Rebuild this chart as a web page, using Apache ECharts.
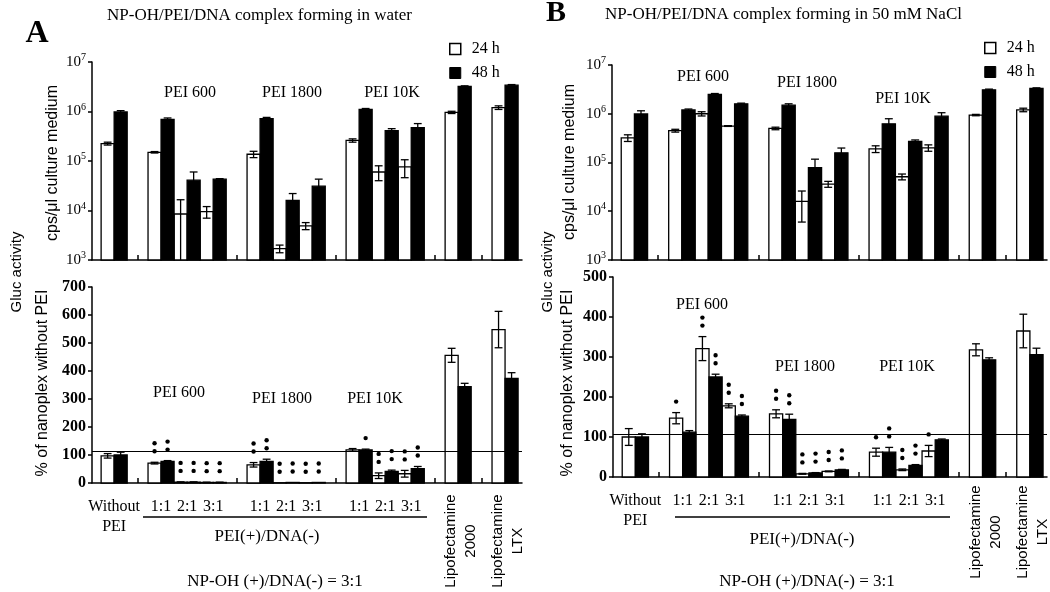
<!DOCTYPE html>
<html>
<head>
<meta charset="utf-8">
<script src="https://cdn.jsdelivr.net/npm/echarts@6/dist/echarts.min.js"></script>
<style>
  html, body { margin: 0; padding: 0; background: #fff; }
  #main { width: 1050px; height: 592px; }
</style>
</head>
<body>
<div id="main"></div>
<script>
const SERIF = '"Liberation Serif", "DejaVu Serif", serif';
const SANS = '"Liberation Sans", Arial, sans-serif';

// conditions, left to right
const conditions = ['Without PEI',
  'PEI 600 1:1', 'PEI 600 2:1', 'PEI 600 3:1',
  'PEI 1800 1:1', 'PEI 1800 2:1', 'PEI 1800 3:1',
  'PEI 10K 1:1', 'PEI 10K 2:1', 'PEI 10K 3:1',
  'Lipofectamine 2000', 'Lipofectamine LTX'];
const groupSizes = [1, 3, 3, 3, 1, 1];
const ratioLabels = ['Without\nPEI', '1:1', '2:1', '3:1', '1:1', '2:1', '3:1', '1:1', '2:1', '3:1'];
const lipoLabels = ['Lipofectamine\n2000', 'Lipofectamine\nLTX'];

// A: complex forming in water (cps/ul)
const aTop24 = [2.25e5, 1.5e5, 8.5e3, 9.5e3, 1.37e5, 1.7e3, 4.9e3, 2.6e5, 6.0e4, 7.6e4, 9.6e5, 1.2e6];
const aTop24Err = [1.5e4, 5e3, 8e3, 2.5e3, 2e4, 3e2, 8e2, 2e4, 2e4, 3e4, 5e4, 1e5];
const aTop48 = [9.8e5, 6.9e5, 4.1e4, 4.3e4, 7.2e5, 1.6e4, 3.1e4, 1.1e6, 4.1e5, 4.7e5, 3.2e6, 3.4e6];
const aTop48Err = [6e4, 5e4, 1.9e4, 1e3, 4e4, 6e3, 1.2e4, 5e4, 4e4, 1e5, 1e5, 1e5];
// A: % of nanoplex without PEI
const aBot24 = [97, 71, 3, 2, 65, 1, 1, 118, 26, 33, 456, 548];
const aBot24Err = [8, 3, 1, 1, 8, 0, 0, 5, 10, 12, 25, 65];
const aBot48 = [100, 77, 3, 2, 77, 2, 2, 118, 41, 51, 344, 374];
const aBot48Err = [10, 3, 1, 1, 8, 0, 0, 3, 5, 8, 12, 20];
const aStars24 = [0, 2, 2, 2, 2, 2, 2, 0, 2, 2, 0, 0];
const aStars48 = [0, 2, 2, 2, 2, 2, 2, 1, 2, 2, 0, 0];
const aRefLine = 112;

// B: complex forming in 50 mM NaCl
const bTop24 = [3.2e5, 4.5e5, 1.0e6, 5.6e5, 5.0e5, 1.6e4, 3.6e4, 1.9e5, 5.1e4, 2.0e5, 9.4e5, 1.2e6];
const bTop24Err = [5e4, 3e4, 1e5, 1e4, 3e4, 1e4, 5e3, 3e4, 7e3, 3e4, 3e4, 1e5];
const bTop48 = [9.9e5, 1.2e6, 2.5e6, 1.6e6, 1.5e6, 7.8e4, 1.58e5, 6.2e5, 2.7e5, 8.9e5, 3.1e6, 3.3e6];
const bTop48Err = [1.6e5, 5e4, 1e5, 5e4, 1e5, 3.9e4, 4e4, 1.7e5, 2e4, 1.6e5, 1e5, 1e5];
const bBot24 = [100, 147, 321, 178, 158, 8, 14, 62, 18, 65, 318, 365];
const bBot24Err = [21, 14, 30, 5, 10, 1, 1, 10, 2, 14, 15, 42];
const bBot48 = [100, 112, 250, 152, 144, 10, 18, 62, 29, 93, 293, 306];
const bBot48Err = [8, 4, 7, 3, 13, 1, 1, 12, 2, 2, 5, 16];
const bStars24 = [0, 1, 2, 2, 2, 2, 2, 1, 2, 1, 0, 0];
const bStars48 = [0, 0, 2, 2, 2, 2, 2, 2, 2, 0, 0, 0];
const bRefLine = 106;

// x layout in bar-width units
const LEAD = 0.7, GAP = 1.6, PAIR = 2, XMAX = 33;
const slotStart = [];
const groupTicks = [];
(function () {
  let x = LEAD;
  groupSizes.forEach((n, gi) => {
    if (gi > 0) { groupTicks.push(x + GAP / 2); x += GAP; }
    for (let k = 0; k < n; k++) { slotStart.push(x); x += PAIR; }
  });
})();
const slotCenter = slotStart.map(s => s + PAIR / 2);
const ratioPos = slotCenter.slice(0, 10);
const lipoPos = slotCenter.slice(10);

function lookup(v, pos, labels) {
  for (let i = 0; i < pos.length; i++) if (Math.abs(pos[i] - v) < 0.01) return labels[i];
  return '';
}

function barSeries(name, xi, yi, off, vals, errs, stars, fill, isLog, refLine) {
  const s = {
    name: name,
    type: 'custom',
    xAxisIndex: xi,
    yAxisIndex: yi,
    itemStyle: { color: fill, borderColor: '#000' },
    data: vals.map((v, i) => [slotStart[i] + off, v, errs[i], stars ? stars[i] : 0]),
    renderItem: function (params, api) {
      const x0 = api.value(0), v = api.value(1), e = api.value(2), n = api.value(3);
      const base = isLog ? 1e3 : 0;
      const p1 = api.coord([x0, v]);
      const p0 = api.coord([x0 + 1, base]);
      const children = [{
        type: 'rect',
        shape: { x: p1[0], y: p1[1], width: p0[0] - p1[0], height: p0[1] - p1[1] },
        style: { fill: fill, stroke: '#000', lineWidth: 1.3 }
      }];
      const cx = (p0[0] + p1[0]) / 2;
      const hw = (p0[0] - p1[0]) * 0.3;
      let top = p1[1];
      if (e > 0) {
        const hi = api.coord([x0, v + e])[1];
        const lo = api.coord([x0, Math.max(v - e, base)])[1];
        const st = { stroke: '#000', lineWidth: 1.3 };
        children.push({ type: 'line', shape: { x1: cx, y1: hi, x2: cx, y2: lo }, style: st });
        children.push({ type: 'line', shape: { x1: cx - hw, y1: hi, x2: cx + hw, y2: hi }, style: st });
        if (v - e > base) children.push({ type: 'line', shape: { x1: cx - hw, y1: lo, x2: cx + hw, y2: lo }, style: st });
        top = hi;
      }
      for (let k = 0; k < n; k++) {
        children.push({ type: 'circle', shape: { cx: cx, cy: top - 11 - 8 * k, r: 2.2 }, style: { fill: '#000' } });
      }
      return { type: 'group', children: children };
    }
  };
  if (refLine) {
    s.markLine = {
      silent: true, symbol: 'none', label: { show: false },
      lineStyle: { color: '#000', width: 1, type: 'solid' },
      data: [{ yAxis: refLine }]
    };
  }
  return s;
}

const axisLineStyle = { color: '#000', width: 1.5 };

function xAxisDef(gi, withLabels) {
  return {
    type: 'value', gridIndex: gi, min: 0, max: XMAX,
    axisLine: { show: true, lineStyle: axisLineStyle },
    axisTick: { show: true, inside: true, length: 5, customValues: groupTicks, lineStyle: axisLineStyle },
    axisLabel: withLabels ? {
      show: true, customValues: ratioPos, color: '#000', fontFamily: SERIF, fontSize: 16,
      lineHeight: 20, margin: 14,
      formatter: v => lookup(v, ratioPos, ratioLabels)
    } : { show: false },
    splitLine: { show: false }
  };
}
function logAxisDef(gi) {
  return {
    type: 'log', logBase: 10, min: 1e3, max: 1e7, gridIndex: gi,
    axisLine: { show: true, lineStyle: axisLineStyle },
    axisTick: { show: true, length: 4, lineStyle: axisLineStyle },
    splitLine: { show: false },
    axisLabel: {
      color: '#000', fontFamily: SERIF, fontSize: 15, margin: 6,
      formatter: v => '10{s|' + Math.round(Math.log10(v)) + '}',
      rich: { s: { fontSize: 10, fontFamily: SERIF, padding: [0, 0, 9, 0], color: '#000' } }
    }
  };
}
function linAxisDef(gi, max) {
  return {
    type: 'value', min: 0, max: max, interval: 100, gridIndex: gi,
    axisLine: { show: true, lineStyle: axisLineStyle },
    axisTick: { show: true, length: 4, lineStyle: axisLineStyle },
    splitLine: { show: false },
    axisLabel: { color: '#000', fontFamily: SERIF, fontSize: 16, fontWeight: 'bold', margin: 6 }
  };
}

function txt(text, x, y, font, extra, align) {
  return Object.assign({
    type: 'text', x: x, y: y,
    style: { text: text, font: font, fill: '#000', align: align || 'center', verticalAlign: 'middle', lineHeight: 20 }
  }, extra || {});
}
const R90 = { rotation: Math.PI / 2 };

const legendItems = [
  { name: '24 h', icon: 'rect', itemStyle: { color: '#fff', borderColor: '#000', borderWidth: 1.5 } },
  { name: '48 h', icon: 'rect', itemStyle: { color: '#000', borderColor: '#000', borderWidth: 1 } }
];
function legendDef(left, top) {
  return {
    data: legendItems, left: left, top: top, orient: 'vertical',
    itemWidth: 11, itemHeight: 11, itemGap: 8, selectedMode: false,
    textStyle: { fontFamily: SERIF, fontSize: 16, color: '#000', padding: [0, 0, 0, 6] }
  };
}

const graphics = [
  txt('A', 37, 34, 'bold 32px ' + SERIF),
  txt('B', 556, 13, 'bold 30px ' + SERIF),
  txt('NP-OH/PEI/DNA complex forming in water', 107, 16, '17px ' + SERIF, null, 'left'),
  txt('NP-OH/PEI/DNA complex forming in 50 mM NaCl', 605, 15, '17px ' + SERIF, null, 'left'),
  txt('cps/\u03bcl culture medium', 53, 163, '16px ' + SANS, R90),
  txt('% of nanoplex without PEI', 43, 383, '16px ' + SANS, R90),
  txt('Gluc activity', 17, 272, '15px ' + SANS, R90),
  txt('cps/\u03bcl culture medium', 570, 162, '16px ' + SANS, R90),
  txt('% of nanoplex without PEI', 568, 383, '16px ' + SANS, R90),
  txt('Gluc activity', 548, 272, '15px ' + SANS, R90),
  txt('PEI 600', 190, 93, '16px ' + SERIF),
  txt('PEI 1800', 292, 93, '16px ' + SERIF),
  txt('PEI 10K', 392, 93, '16px ' + SERIF),
  txt('PEI 600', 703, 77, '16px ' + SERIF),
  txt('PEI 1800', 807, 83, '16px ' + SERIF),
  txt('PEI 10K', 903, 99, '16px ' + SERIF),
  txt('PEI 600', 179, 393, '16px ' + SERIF),
  txt('PEI 1800', 282, 399, '16px ' + SERIF),
  txt('PEI 10K', 375, 399, '16px ' + SERIF),
  txt('PEI 600', 702, 305, '16px ' + SERIF),
  txt('PEI 1800', 805, 367, '16px ' + SERIF),
  txt('PEI 10K', 907, 367, '16px ' + SERIF),
  { type: 'line', shape: { x1: 143, y1: 517, x2: 427, y2: 517 }, style: { stroke: '#000', lineWidth: 1.5 } },
  { type: 'line', shape: { x1: 675, y1: 517, x2: 950, y2: 517 }, style: { stroke: '#000', lineWidth: 1.5 } },
  txt('PEI(+)/DNA(-)', 267, 537, '17px ' + SERIF),
  txt('PEI(+)/DNA(-)', 802, 540, '17px ' + SERIF),
  txt('NP-OH (+)/DNA(-) = 3:1', 275, 582, '17px ' + SERIF),
  txt('NP-OH (+)/DNA(-) = 3:1', 807, 582, '17px ' + SERIF)
];

const chart = echarts.init(document.getElementById('main'));
chart.setOption({
  animation: false,
  backgroundColor: '#fff',
  grid: [
    { left: 92, top: 62, width: 430, height: 198, outerBoundsMode: 'none' },
    { left: 92, top: 287, width: 430, height: 196, outerBoundsMode: 'none' },
    { left: 612, top: 65, width: 435, height: 195, outerBoundsMode: 'none' },
    { left: 613, top: 277, width: 434, height: 200, outerBoundsMode: 'none' }
  ],
  xAxis: [xAxisDef(0, false), xAxisDef(1, true), xAxisDef(2, false), xAxisDef(3, true)],
  yAxis: [logAxisDef(0), linAxisDef(1, 700), logAxisDef(2), linAxisDef(3, 500)],
  legend: [legendDef(444, 36), legendDef(979, 35)],
  series: [
    barSeries('24 h', 0, 0, 0, aTop24, aTop24Err, null, '#fff', true),
    barSeries('48 h', 0, 0, 1, aTop48, aTop48Err, null, '#000', true),
    barSeries('24 h', 1, 1, 0, aBot24, aBot24Err, aStars24, '#fff', false, aRefLine),
    barSeries('48 h', 1, 1, 1, aBot48, aBot48Err, aStars48, '#000', false),
    barSeries('24 h', 2, 2, 0, bTop24, bTop24Err, null, '#fff', true),
    barSeries('48 h', 2, 2, 1, bTop48, bTop48Err, null, '#000', true),
    barSeries('24 h', 3, 3, 0, bBot24, bBot24Err, bStars24, '#fff', false, bRefLine),
    barSeries('48 h', 3, 3, 1, bBot48, bBot48Err, bStars48, '#000', false)
  ],
  graphic: graphics
});

// rotated Lipofectamine labels under their bar pairs
const lipoY = [541, 532];
[1, 3].forEach((xi, p) => {
  lipoPos.forEach((v, i) => {
    const px = chart.convertToPixel({ xAxisIndex: xi }, v);
    graphics.push(txt(lipoLabels[i], px + 3, lipoY[p], '15px ' + SANS, R90));
  });
});
chart.setOption({ graphic: graphics });
</script>
</body>
</html>
